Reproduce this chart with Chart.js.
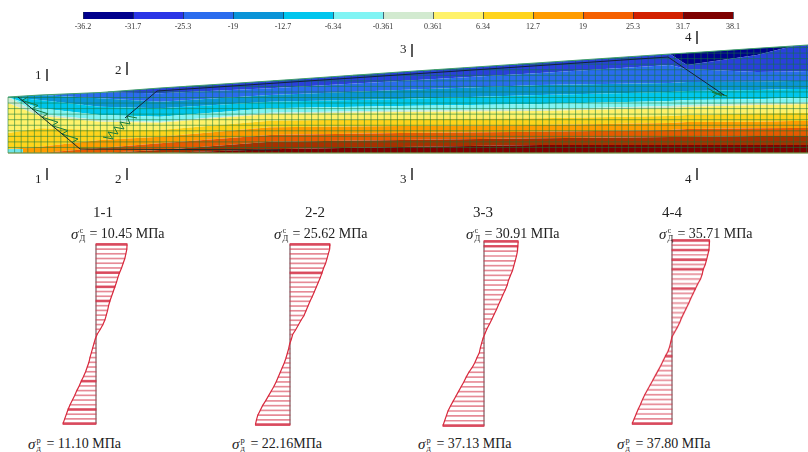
<!DOCTYPE html>
<html>
<head>
<meta charset="utf-8">
<title>Напряжения в балке</title>
<script src="https://cdn.jsdelivr.net/npm/chart.js@4"></script>
<style>
  html, body { margin: 0; padding: 0; background: #fff; }
  #page { position: relative; width: 808px; height: 452px; overflow: hidden; font-family: "Liberation Serif", serif; color: #222; }
  canvas { position: absolute; display: block; filter: blur(0.3px); }
  .txt { position: absolute; white-space: nowrap; line-height: 1; }
  .sec { font-size: 13px; }
  .ttl { font-size: 15px; transform: translateX(-50%); }
  .sig { font-size: 14px; display: flex; align-items: center; }
  .sig i { font-size: 15px; }
  .idx { display: inline-block; width: 7px; height: 16px; position: relative; margin-right: 4px; }
  .idx b { position: absolute; left: 1px; font-weight: normal; font-size: 8.5px; line-height: 1; }
  .idx b.up { top: 0; }
  .idx b.dn { bottom: 0; }
</style>
</head>
<body>
<div id="page"></div>
<script>
// Шкала
const scaleLabels = ['-36.2', '-31.7', '-25.3', '-19', '-12.7', '-6.34', '-0.361', '0.361', '6.34', '12.7', '19', '25.3', '31.7', '38.1'];
const scaleColors = ['#00008c', '#2a35e6', '#2a6cee', '#0a94d8', '#00c6ee', '#80f4f4', '#d2ead0', '#fff26a', '#ffd41c', '#ff9c00', '#f56000', '#d22000', '#7e0000'];
const beamColors = ['#00008c', '#2a40dc', '#2a6cee', '#0a94d8', '#00c6ee', '#80f4f4', '#d2ead0', '#fff26a', '#ffd41c', '#ff9c00', '#e85a00', '#a83000', '#7e0000'];

// Изолинии: высота над низом балки по станциям
const stations = [8, 40, 100, 160, 270, 400, 540, 670, 687, 757, 793, 808];
const isoBottom = [0, 0, 0, 0, 0, 0, 0, 0, 0, 0, 0, 0];
const isoP317 = [0, 0, 0, 0, 3.7, 6, 8, 8, 8, 8, 8, 8];
const isoP253 = [0, 0, 0, 3, 11.3, 13, 14.7, 16, 16, 17, 17, 17];
const isoP19 = [0, 0, 5, 9.7, 18, 20, 21.3, 23, 24, 24.7, 25, 25];
const isoP127 = [4, 6.3, 13, 16.3, 25.7, 27, 28, 30, 31, 31.3, 32, 32];
const isoP634 = [20, 24.7, 23, 23, 32.3, 34, 34.7, 37, 38, 39.7, 40, 40];
const isoP036 = [50, 37, 31.3, 30.3, 39, 41, 42, 45, 46, 48, 48.5, 49];
const isoM036 = [56, 38.7, 33, 31.3, 40.3, 42.5, 43.7, 47, 48, 49.7, 50, 50.5];
const isoM634 = [56, 44.7, 38, 36.3, 44.7, 47, 49, 52, 53, 53.7, 55, 55];
const isoM127 = [56, 53, 46.3, 44.7, 51.3, 54, 58, 61, 62, 63, 64, 64];
const isoM19 = [56, 58, 54.7, 51.3, 58, 63, 68, 70, 71, 71.3, 72, 72];
const isoM253 = [56, 58, 60.5, 59.7, 64.7, 72, 80, 88, 84, 81, 81.5, 82];
const isoM317 = [56, 58, 60.5, 65, 72, 81, 90.3, 99, 88, 98, 107, 108];
const isoTop = [56, 58, 60.5, 65, 72, 81, 90.3, 99, 100, 104.7, 107, 108];

// Арматура
const tendon1X = [18, 80, 280];
const tendon1H = [56, 4, 3];
const tendon2X = [125, 157, 668, 724];
const tendon2H = [35, 62, 96, 58];
const sheath1X = [28, 22, 38, 32, 48, 42, 58, 52, 68, 62, 78, 72];
const sheath1H = [56, 52.6, 47.6, 44.2, 39.2, 35.8, 30.8, 27.4, 22.4, 19, 14, 10.6];
const sheath2X = [103, 113, 108, 118, 114, 124, 120, 130, 127, 137];
const sheath2H = [16, 14, 21, 19, 26, 24, 31, 29, 37, 35];
const sheath3X = [707, 722, 712, 727, 718, 713];
const sheath3H = [65, 57, 61, 57, 60, 56];
const cornerX = [8, 23];
const cornerH = [2, 2];

// Сечения
const sectionX = [47, 127, 412, 697];
const sectionTopLow = [72, 78, 96, 109];
const sectionTopHigh = [84, 91, 109, 122];
const sectionBotLow = [-27, -27, -27, -27];
const sectionBotHigh = [-15, -15, -15, -15];
const sectionNames = ['1', '2', '3', '4'];

// Эпюры, МПа (сжатие вправо)
const stress1 = [10.45, 10.37, 10.04, 9.70, 9.14, 8.59, 7.92, 7.36, 6.91, 6.36, 5.80, 5.24, 4.68, 4.24, 3.90, 3.46, 3.01, 2.34, 1.45, 0.45, -0.23, -0.68, -1.13, -1.58, -2.04, -2.38, -2.94, -3.50, -4.19, -4.98, -5.66, -6.45, -7.13, -7.93, -8.72, -9.40, -9.97, -10.53, -11.10];
const stress2 = [25.62, 25.41, 24.55, 23.70, 22.84, 21.56, 20.50, 19.43, 18.15, 16.87, 15.59, 14.30, 12.81, 11.53, 10.25, 8.97, 7.05, 5.34, 3.63, 1.71, 0.85, -0.22, -0.87, -1.74, -2.61, -3.69, -5.00, -6.30, -7.60, -8.91, -10.43, -12.17, -13.90, -15.64, -17.60, -19.12, -20.64, -21.50, -22.16];
const stress3 = [30.91, 30.60, 30.30, 29.40, 28.20, 27.00, 25.80, 24.00, 22.20, 21.00, 19.20, 17.10, 15.30, 13.20, 11.40, 9.30, 7.20, 5.10, 2.70, 0.90, -0.91, -2.13, -3.35, -4.26, -6.39, -8.22, -10.65, -13.70, -16.13, -18.26, -20.70, -23.13, -25.57, -28.00, -30.43, -32.56, -34.09, -35.60, -37.13];
const stress4 = [35.71, 35.40, 35.09, 33.97, 32.86, 31.58, 29.67, 28.71, 27.12, 24.56, 22.33, 20.10, 17.86, 15.95, 13.72, 11.48, 9.25, 7.34, 5.10, 2.55, 0, -1.10, -2.20, -3.78, -6.30, -8.50, -10.71, -13.23, -15.75, -18.27, -20.79, -23.31, -25.83, -28.04, -29.93, -32.13, -34.02, -35.91, -37.80];
const strong1 = [0, 6, 9, 12, 29, 35, 38];
const strong2 = [0, 6, 38];
const strong3 = [0, 1, 38];
const strong4 = [0, 2, 4, 6, 10, 24, 38];
const sectionTitles = ['1-1', '2-2', '3-3', '4-4'];
const sigmaTop = ['= 10.45 МПа', '= 25.62 МПа', '= 30.91 МПа', '= 35.71 МПа'];
const sigmaBottom = ['= 11.10 МПа', '= 22.16МПа', '= 37.13 МПа', '= 37.80 МПа'];

// Раскладка на странице
const panelLeft = [52, 246, 439.5, 627.5];
const panelTop = [241.6, 241.6, 238.6, 237.9];
const panelHeight = [184.7, 185.7, 189.8, 187.8];
const panelRange = [14.8, 28.2, 39.8, 41.8];
const titleX = [103, 315, 483, 672];
const sigmaTopX = [71, 274, 466, 659];
const sigmaBottomX = [28, 232, 418, 617];
const sectionTopTextY = [68, 63, 42, 30];

const page = document.getElementById('page');

function addCanvas(left, top, width, height) {
    const canvas = document.createElement('canvas');
    canvas.width = width;
    canvas.height = height;
    canvas.style.left = left + 'px';
    canvas.style.top = top + 'px';
    canvas.style.width = width + 'px';
    canvas.style.height = height + 'px';
    page.appendChild(canvas);
    return canvas;
}

function addText(cls, left, top, html) {
    const el = document.createElement('div');
    el.className = 'txt ' + cls;
    el.style.left = left + 'px';
    el.style.top = top + 'px';
    el.innerHTML = html;
    page.appendChild(el);
}

function pairs(xs, ys) {
    return xs.map((x, i) => ({ x: x, y: ys[i] }));
}

function lineSet(data, color, width, order) {
    return {
        type: 'line', data: data, borderColor: color, borderWidth: width,
        pointRadius: 0, tension: 0, fill: false, spanGaps: false, order: order
    };
}

// Шкала цветов
function renderScale() {
    const canvas = addCanvas(60, 8, 700, 24);
    new Chart(canvas, {
        type: 'bar',
        data: {
            labels: [''],
            datasets: scaleColors.map((color) => ({ data: [1], backgroundColor: color, barPercentage: 1, categoryPercentage: 1 }))
        },
        options: {
            indexAxis: 'y',
            responsive: false,
            animation: false,
            layout: { padding: { left: 23, right: 27, top: 4, bottom: 0 } },
            plugins: { legend: { display: false }, tooltip: { enabled: false } },
            scales: {
                x: {
                    type: 'linear', stacked: true, min: 0, max: 13,
                    afterFit: (scale) => { scale.height = 13; },
                    grid: { color: 'rgba(20,40,70,0.7)', z: 1, drawTicks: false },
                    border: { display: false },
                    ticks: {
                        stepSize: 1, autoSkip: false, maxRotation: 0, padding: 3,
                        color: '#333', font: { family: 'Liberation Serif', size: 8 },
                        callback: (value) => scaleLabels[value]
                    }
                },
                y: { stacked: true, display: false }
            }
        }
    });
}

// Балка
function meshPoints() {
    const topAt = (x) => {
        let i = 0;
        while (i < stations.length - 2 && x > stations[i + 1]) i++;
        return isoTop[i] + (x - stations[i]) * (isoTop[i + 1] - isoTop[i]) / (stations[i + 1] - stations[i]);
    };
    const pts = [];
    for (let x = 8; x <= 808; x += 6.6) {
        pts.push({ x: x, y: 0 }, { x: x, y: topAt(x) }, { x: NaN, y: NaN });
    }
    for (let h = 0; h <= 108; h += 5.55) {
        let start = 8;
        while (start < 808 && topAt(start) < h) start += 1;
        pts.push({ x: start, y: h }, { x: 808, y: h }, { x: NaN, y: NaN });
    }
    return pts;
}

function sectionPoints(low, high) {
    const pts = [];
    sectionX.forEach((x, i) => {
        pts.push({ x: x, y: low[i] }, { x: x, y: high[i] }, { x: NaN, y: NaN });
    });
    return pts;
}

function renderBeam() {
    const canvas = addCanvas(0, 28, 808, 157);
    const iso = [isoP317, isoP253, isoP19, isoP127, isoP634, isoP036, isoM036, isoM634, isoM127, isoM19, isoM253, isoM317, isoTop];
    const bands = iso.map((heights, i) => ({
        type: 'line', data: pairs(stations, heights), borderWidth: 0, pointRadius: 0, tension: 0,
        fill: '-1', backgroundColor: beamColors[beamColors.length - 1 - i], order: 10
    }));
    new Chart(canvas, {
        type: 'line',
        data: {
            datasets: [
                lineSet(pairs(stations, isoBottom), 'transparent', 0, 10),
                ...bands,
                lineSet(pairs(cornerX, cornerH), '#70e4e8', 4, 9),
                lineSet(meshPoints(), 'rgba(16,120,56,0.55)', 1, 8),
                lineSet(pairs(stations, isoTop), '#3f9f6a', 1, 7),
                lineSet(pairs(stations, isoBottom), '#8a9a4a', 1.2, 7),
                lineSet(pairs(sheath1X, sheath1H), '#167a3e', 1, 6),
                lineSet(pairs(sheath2X, sheath2H), '#167a3e', 1, 6),
                lineSet(pairs(sheath3X, sheath3H), '#167a3e', 1, 6),
                lineSet(pairs(tendon1X, tendon1H), '#14262a', 1, 5),
                lineSet(pairs(tendon2X, tendon2H), '#12203a', 1, 5),
                lineSet(sectionPoints(sectionTopLow, sectionTopHigh), '#333', 1.6, 5),
                lineSet(sectionPoints(sectionBotLow, sectionBotHigh), '#333', 1.6, 5)
            ]
        },
        options: {
            responsive: false,
            animation: false,
            plugins: { legend: { display: false }, tooltip: { enabled: false } },
            scales: {
                x: { type: 'linear', min: 0, max: 808, display: false },
                y: { type: 'linear', min: -32, max: 125, display: false }
            }
        }
    });
    sectionNames.forEach((name, i) => {
        addText('sec', sectionX[i] - 12, sectionTopTextY[i], name);
        addText('sec', sectionX[i] - 12, 172, name);
    });
}

// Эпюры
function renderStress(index, values, strong) {
    const canvas = addCanvas(panelLeft[index], panelTop[index], 88, panelHeight[index]);
    const range = panelRange[index];
    const rows = values.map((v, i) => i);
    const strongValues = values.map((v, i) => (strong.includes(i) ? v : null));
    new Chart(canvas, {
        type: 'bar',
        data: {
            labels: rows,
            datasets: [
                { type: 'line', data: values.map(() => 0), borderColor: '#a58d90', borderWidth: 1, pointRadius: 0, tension: 0, order: 2 },
                { type: 'line', data: values, borderColor: '#d8283c', borderWidth: 1.2, pointRadius: 0, tension: 0, order: 0 },
                { data: values, backgroundColor: 'rgba(214,60,80,0.6)', barThickness: 1, grouped: false, order: 1 },
                { data: strongValues, backgroundColor: 'rgba(210,30,55,0.7)', barThickness: 2, grouped: false, order: 1 }
            ]
        },
        options: {
            indexAxis: 'y',
            responsive: false,
            animation: false,
            plugins: { legend: { display: false }, tooltip: { enabled: false } },
            scales: {
                x: { type: 'linear', min: -range, max: range, display: false },
                y: { type: 'category', display: false, offset: true }
            }
        }
    });
}

function sigmaHtml(upper, lower, text) {
    return '<i>σ</i><span class="idx"><b class="up">' + upper + '</b><b class="dn">' + lower + '</b></span>' + text;
}

renderScale();
renderBeam();
[stress1, stress2, stress3, stress4].forEach((values, i) => {
    renderStress(i, values, [strong1, strong2, strong3, strong4][i]);
    addText('ttl', titleX[i], 205, sectionTitles[i]);
    addText('sig', sigmaTopX[i], 226, sigmaHtml('с', 'Д', sigmaTop[i]));
    addText('sig', sigmaBottomX[i], 436, sigmaHtml('р', 'д', sigmaBottom[i]));
});
</script>
</body>
</html>
